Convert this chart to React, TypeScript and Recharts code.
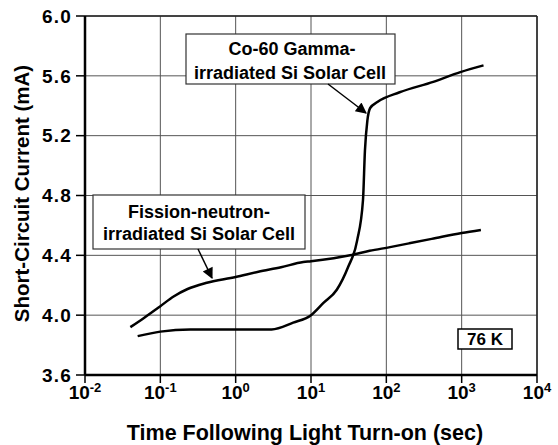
import React from "react";
import {
  LineChart,
  Line,
  XAxis,
  YAxis,
  CartesianGrid,
  ReferenceLine,
} from "recharts";

// time (sec) and short-circuit current (mA)
const gammaTime = [0.05, 0.1, 0.25, 1, 3, 5.8, 10, 14.5, 22, 31, 41, 49, 52, 56, 61, 76, 150, 420, 960, 1950];
const gammaCurrent = [3.86, 3.89, 3.905, 3.905, 3.905, 3.95, 4.0, 4.08, 4.17, 4.32, 4.5, 4.77, 5.1, 5.3, 5.385, 5.425, 5.49, 5.56, 5.625, 5.67];

const fissionTime = [0.04, 0.06, 0.1, 0.15, 0.23, 0.4, 1, 2, 4, 7.9, 10, 20, 33, 60, 112, 200, 400, 1000, 1800];
const fissionCurrent = [3.92, 3.98, 4.06, 4.125, 4.175, 4.215, 4.255, 4.29, 4.32, 4.355, 4.36, 4.38, 4.4, 4.43, 4.455, 4.48, 4.51, 4.55, 4.57];

const xTicks = [0.01, 0.1, 1, 10, 100, 1000, 10000];
const xExponents = ["-2", "-1", "0", "1", "2", "3", "4"];
const yTicks = [3.6, 4.0, 4.4, 4.8, 5.2, 5.6, 6.0];

const gammaData = gammaTime.map((t, i) => ({ t, i: gammaCurrent[i] }));
const fissionData = fissionTime.map((t, i) => ({ t, i: fissionCurrent[i] }));

const FONT = "'Liberation Sans', Arial, Helvetica, sans-serif";

const PowerTick = (props: any) => {
  const { x, y, payload } = props;
  const idx = xTicks.indexOf(payload.value);
  return (
    <text x={x} y={y + 14} textAnchor="middle" fontSize={19} fontWeight="bold" fill="#000">
      <tspan>10</tspan>
      <tspan dy={-7} fontSize={13}>{xExponents[idx]}</tspan>
    </text>
  );
};

const YTitle = (props: any) => {
  const { viewBox } = props;
  const cx = 21;
  const cy = viewBox.y + viewBox.height / 2 - 2;
  return (
    <text
      x={cx}
      y={cy}
      transform={`rotate(-90 ${cx} ${cy})`}
      textAnchor="middle"
      dominantBaseline="central"
      fontSize={20.5}
      fontWeight="bold"
      fill="#000"
    >
      Short-Circuit Current (mA)
    </text>
  );
};

export default function App() {
  return (
    <div style={{ position: "absolute", left: 0, top: 0, width: 558, height: 445, background: "#fff", fontFamily: FONT }}>
      <LineChart
        width={558}
        height={445}
        margin={{ top: 16, right: 21, left: 0, bottom: 0 }}
      >
        <CartesianGrid stroke="#555" strokeWidth={1} />
        <XAxis
          dataKey="t"
          type="number"
          scale="log"
          domain={[0.01, 10000]}
          ticks={xTicks}
          allowDataOverflow
          height={70}
          tickSize={8}
          tick={<PowerTick />}
          axisLine={{ stroke: "#000", strokeWidth: 2.5 }}
          tickLine={{ stroke: "#000", strokeWidth: 1.5 }}
          label={{
            value: "Time Following Light Turn-on (sec)",
            position: "insideBottom",
            offset: 5,
            dx: -6,
            fontSize: 21.5,
            fontWeight: "bold",
            fill: "#000",
          }}
        />
        <YAxis
          dataKey="i"
          type="number"
          domain={[3.6, 6.0]}
          ticks={yTicks}
          allowDataOverflow
          width={85}
          tickSize={9}
          tickMargin={4}
          tickFormatter={(v: number) => v.toFixed(1)}
          tick={{ fontSize: 19, fontWeight: "bold", fill: "#000", letterSpacing: 1.2 }}
          axisLine={{ stroke: "#000", strokeWidth: 2.5 }}
          tickLine={{ stroke: "#000", strokeWidth: 1.5 }}
          label={{ content: <YTitle /> }}
        />
        <ReferenceLine y={6.0} stroke="#222" strokeWidth={1.5} />
        <ReferenceLine x={10000} stroke="#222" strokeWidth={1.5} />
        <Line
          data={fissionData}
          dataKey="i"
          type="monotone"
          stroke="#000"
          strokeWidth={2.5}
          dot={false}
          isAnimationActive={false}
        />
        <Line
          data={gammaData}
          dataKey="i"
          type="monotone"
          stroke="#000"
          strokeWidth={2.5}
          dot={false}
          isAnimationActive={false}
        />
      </LineChart>

      {/* callouts */}
      <svg width={558} height={445} style={{ position: "absolute", left: 0, top: 0, pointerEvents: "none" }}>
        <defs>
          <marker id="head" viewBox="0 0 10 10" refX="9" refY="5" markerWidth="13" markerHeight="11" orient="auto" markerUnits="userSpaceOnUse">
            <path d="M0,0 L10,5 L0,10 z" fill="#000" />
          </marker>
        </defs>
        <g fontWeight="bold" fontSize={18} fill="#000" textAnchor="middle">
          <rect x={186} y={34} width={209} height={50} fill="#fff" stroke="#333" strokeWidth={1.2} />
          <text x={292} y={55}>Co-60 Gamma-</text>
          <text x={290} y={79}>irradiated Si Solar Cell</text>
          <line x1={328} y1={84} x2={366} y2={113} stroke="#000" strokeWidth={1.5} markerEnd="url(#head)" />

          <rect x={93} y={195} width={212} height={54} fill="#fff" stroke="#333" strokeWidth={1.2} />
          <text x={199} y={218}>Fission-neutron-</text>
          <text x={199} y={240}>irradiated Si Solar Cell</text>
          <line x1={198} y1={249} x2={212} y2={278} stroke="#000" strokeWidth={1.5} markerEnd="url(#head)" />

          <rect x={458} y={329} width={54} height={20} fill="#fff" stroke="#000" strokeWidth={1.5} />
          <text x={485} y={345} fontSize={17}>76 K</text>
        </g>
      </svg>
    </div>
  );
}
